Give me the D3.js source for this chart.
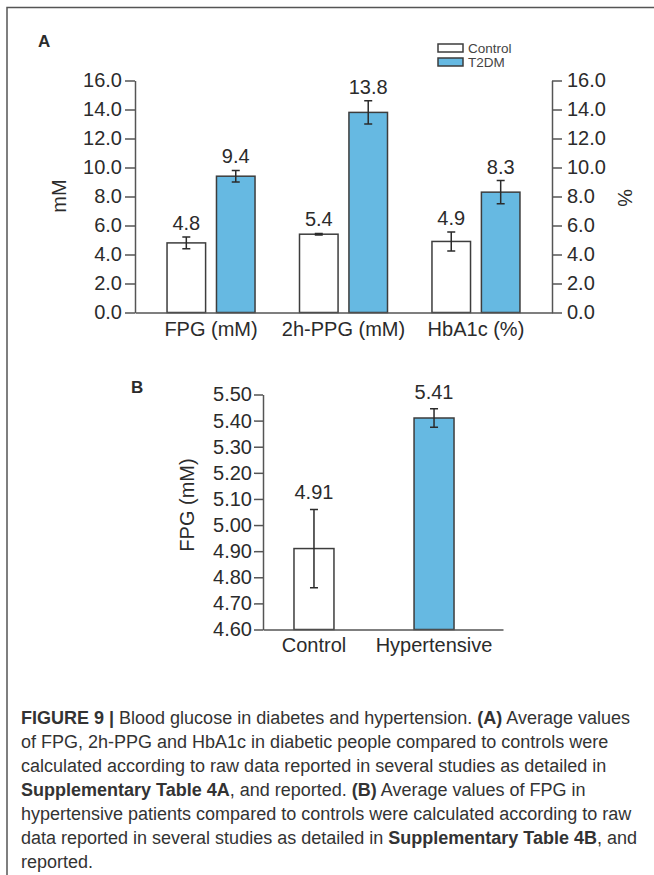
<!DOCTYPE html>
<html lang="en">
  <head>
    <meta charset="UTF-8">
    <title>Figure 9 - Blood glucose</title>
    <style>
      body {
        margin: 0;
        background: #fff;
        font-family: 'Liberation Sans', Arial, Helvetica, sans-serif;
      }

      svg text {
        fill: #2b2b2b;
      }

      .axis path, .axis line {
        stroke: #555;
        stroke-width: 1.5px;
      }
    </style>
  </head>
  <body>
    <div id="figure"></div>

    <script src="https://cdn.jsdelivr.net/npm/d3@7"></script>
    <script>
      // panel A
      const groupsA = ['FPG (mM)', '2h-PPG (mM)', 'HbA1c (%)'];
      const seriesA = ['Control', 'T2DM'];
      const controlA = [4.8, 5.4, 4.9];
      const controlErrA = [0.4, 0.05, 0.65];
      const t2dmA = [9.4, 13.8, 8.3];
      const t2dmErrA = [0.4, 0.8, 0.8];
      const ticksA = [0, 2, 4, 6, 8, 10, 12, 14, 16];

      // panel B
      const groupsB = ['Control', 'Hypertensive'];
      const valuesB = [4.91, 5.41];
      const errB = [0.15, 0.035];
      const ticksB = [4.6, 4.7, 4.8, 4.9, 5.0, 5.1, 5.2, 5.3, 5.4, 5.5];

      const caption = [
        [['FIGURE 9 |', true], [' Blood glucose in diabetes and hypertension. ', false], ['(A)', true], [' Average values', false]],
        [['of FPG, 2h-PPG and HbA1c in diabetic people compared to controls were', false]],
        [['calculated according to raw data reported in several studies as detailed in', false]],
        [['Supplementary Table 4A', true], [', and reported. ', false], ['(B)', true], [' Average values of FPG in', false]],
        [['hypertensive patients compared to controls were calculated according to raw', false]],
        [['data reported in several studies as detailed in ', false], ['Supplementary Table 4B', true], [', and', false]],
        [['reported.', false]]
      ];

      const colors = { Control: '#ffffff', T2DM: '#66b9e2' };
      const barStroke = '#3d3d3d';

      const svg = d3.select('#figure').append('svg')
        .attr('width', 654)
        .attr('height', 875);

      // frame
      svg.append('path')
        .attr('d', 'M7,875 V7.5 H654')
        .attr('fill', 'none')
        .attr('stroke', '#555')
        .attr('stroke-width', 1.5);

      // ---------- panel A ----------
      const yA = d3.scaleLinear().domain([0, 16]).range([312.5, 80.5]);
      const x0 = d3.scaleBand().domain(groupsA).range([135, 552])
        .paddingInner(0).paddingOuter(0.074);
      const x1 = d3.scaleBand().domain(seriesA).range([-44, 44]).paddingInner(0.22);

      const dataA = groupsA.map((g, i) => ({
        group: g,
        bars: [
          { key: 'Control', value: controlA[i], err: controlErrA[i] },
          { key: 'T2DM', value: t2dmA[i], err: t2dmErrA[i] }
        ]
      }));

      const gA = svg.append('g').attr('class', 'panel-a');

      svg.append('text')
        .attr('x', 38).attr('y', 47)
        .attr('font-size', 17).attr('font-weight', 'bold')
        .text('A');

      gA.append('g')
        .attr('class', 'axis')
        .attr('transform', 'translate(135,0)')
        .call(d3.axisLeft(yA).tickValues(ticksA).tickFormat(d => d.toFixed(1)).tickSize(10).tickSizeOuter(0).tickPadding(3))
        .call(g => g.selectAll('text').attr('font-size', 20).attr('font-family', 'inherit').attr('fill', '#2b2b2b'));

      gA.append('g')
        .attr('class', 'axis')
        .attr('transform', 'translate(552,0)')
        .call(d3.axisRight(yA).tickValues(ticksA).tickFormat(d => d.toFixed(1)).tickSize(10).tickSizeOuter(0).tickPadding(5))
        .call(g => g.selectAll('text').attr('font-size', 20).attr('font-family', 'inherit').attr('fill', '#2b2b2b'));

      const groupSel = gA.selectAll('.group')
        .data(dataA)
        .join('g')
        .attr('class', 'group')
        .attr('transform', d => `translate(${x0(d.group) + x0.bandwidth() / 2},0)`);

      const barSel = groupSel.selectAll('.bar')
        .data(d => d.bars)
        .join('g')
        .attr('class', 'bar');

      barSel.append('rect')
        .attr('x', d => x1(d.key))
        .attr('y', d => yA(d.value))
        .attr('width', x1.bandwidth())
        .attr('height', d => yA(0) - yA(d.value))
        .attr('fill', d => colors[d.key])
        .attr('stroke', barStroke)
        .attr('stroke-width', 1.5);

      const errPath = (cx, yTop, yBot) =>
        `M${cx},${yTop} V${yBot} M${cx - 4},${yTop} H${cx + 4} M${cx - 4},${yBot} H${cx + 4}`;

      barSel.append('path')
        .attr('d', d => {
          const cx = x1(d.key) + x1.bandwidth() / 2;
          return errPath(cx, yA(d.value + d.err), yA(d.value - d.err));
        })
        .attr('fill', 'none')
        .attr('stroke', '#2b2b2b')
        .attr('stroke-width', 1.5);

      barSel.append('text')
        .attr('x', d => x1(d.key) + x1.bandwidth() / 2)
        .attr('y', d => yA(d.value + d.err) - 7)
        .attr('text-anchor', 'middle')
        .attr('font-size', 20)
        .text(d => d.value.toFixed(1));

      // baseline with category labels
      gA.append('g')
        .attr('class', 'axis')
        .attr('transform', `translate(0,${yA(0)})`)
        .call(d3.axisBottom(x0).tickSize(0).tickPadding(9))
        .call(g => g.selectAll('text').attr('font-size', 20).attr('font-family', 'inherit').attr('fill', '#2b2b2b'));

      svg.append('text')
        .attr('transform', 'translate(66,196) rotate(-90)')
        .attr('text-anchor', 'middle')
        .attr('font-size', 20)
        .text('mM');

      svg.append('text')
        .attr('transform', 'translate(618,198) rotate(90)')
        .attr('text-anchor', 'middle')
        .attr('font-size', 20)
        .text('%');

      // legend
      const legend = svg.append('g').attr('transform', 'translate(438,44)');
      const legendItem = legend.selectAll('g')
        .data(seriesA)
        .join('g')
        .attr('transform', (d, i) => `translate(0,${i * 14})`);
      legendItem.append('rect')
        .attr('width', 25).attr('height', 8)
        .attr('fill', d => colors[d])
        .attr('stroke', barStroke)
        .attr('stroke-width', 1.5);
      legendItem.append('text')
        .attr('x', 30).attr('y', 9)
        .attr('font-size', 13.5)
        .style('fill', '#444')
        .text(d => d);

      // ---------- panel B ----------
      const yB = d3.scaleLinear().domain([4.6, 5.5]).range([629.5, 394.5]);
      const xB = d3.scaleBand().domain(groupsB).range([263, 503])
        .paddingInner(0.667).paddingOuter(0.333).align(0.3875);

      const dataB = groupsB.map((g, i) => ({ key: g, value: valuesB[i], err: errB[i] }));

      svg.append('text')
        .attr('x', 131).attr('y', 393)
        .attr('font-size', 17).attr('font-weight', 'bold')
        .text('B');

      const gB = svg.append('g').attr('class', 'panel-b');

      gB.append('g')
        .attr('class', 'axis')
        .attr('transform', 'translate(263,0)')
        .call(d3.axisLeft(yB).tickValues(ticksB).tickFormat(d => d.toFixed(2)).tickSize(9).tickSizeOuter(0).tickPadding(2))
        .call(g => g.selectAll('text').attr('font-size', 20).attr('font-family', 'inherit').attr('fill', '#2b2b2b'));

      const barB = gB.selectAll('.bar')
        .data(dataB)
        .join('g')
        .attr('class', 'bar');

      barB.append('rect')
        .attr('x', d => xB(d.key))
        .attr('y', d => yB(d.value))
        .attr('width', xB.bandwidth())
        .attr('height', d => yB(4.6) - yB(d.value))
        .attr('fill', (d, i) => i === 0 ? colors.Control : colors.T2DM)
        .attr('stroke', barStroke)
        .attr('stroke-width', 1.5);

      barB.append('path')
        .attr('d', d => {
          const cx = xB(d.key) + xB.bandwidth() / 2;
          return errPath(cx, yB(d.value + d.err), yB(d.value - d.err));
        })
        .attr('fill', 'none')
        .attr('stroke', '#2b2b2b')
        .attr('stroke-width', 1.5);

      barB.append('text')
        .attr('x', d => xB(d.key) + xB.bandwidth() / 2)
        .attr('y', d => yB(d.value + d.err) - 10)
        .attr('text-anchor', 'middle')
        .attr('font-size', 20)
        .text(d => d.value.toFixed(2));

      gB.append('g')
        .attr('class', 'axis')
        .attr('transform', `translate(0,${yB(4.6)})`)
        .call(d3.axisBottom(xB).tickSize(0).tickPadding(8))
        .call(g => g.selectAll('text').attr('font-size', 20).attr('font-family', 'inherit').attr('fill', '#2b2b2b'));

      svg.append('text')
        .attr('transform', 'translate(194,505) rotate(-90)')
        .attr('text-anchor', 'middle')
        .attr('font-size', 20)
        .text('FPG (mM)');

      // ---------- caption ----------
      const cap = svg.append('g').attr('class', 'caption');
      caption.forEach((line, i) => {
        const t = cap.append('text')
          .attr('x', 21)
          .attr('y', 724 + i * 24)
          .attr('font-size', 18)
          .style('fill', '#333');
        line.forEach(([str, bold]) => {
          t.append('tspan')
            .attr('font-weight', bold ? 'bold' : 'normal')
            .text(str);
        });
      });
    </script>
  </body>
</html>
